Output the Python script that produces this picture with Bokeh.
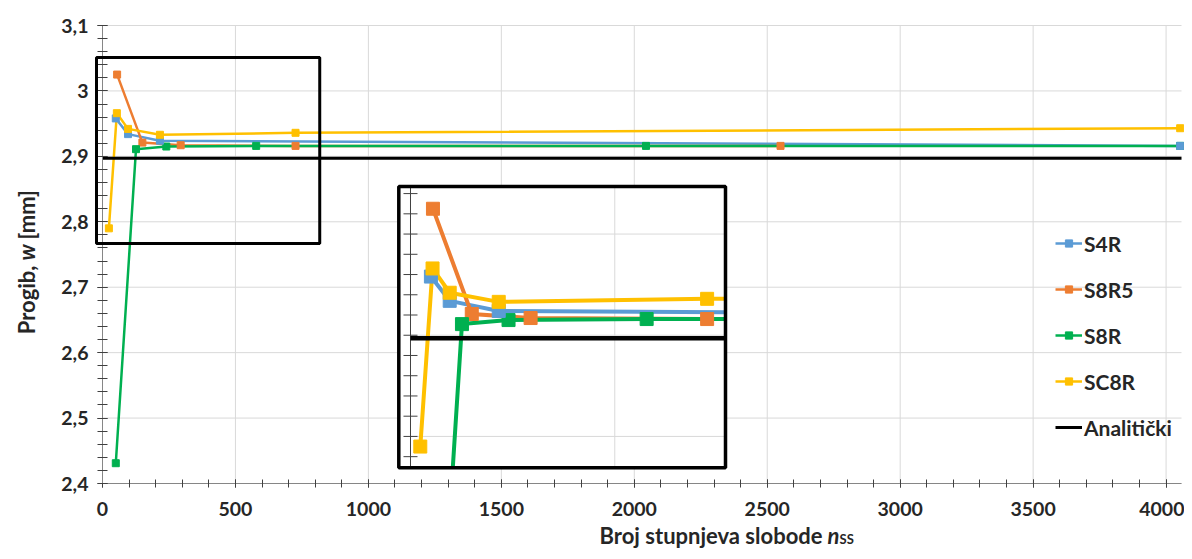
import math
from bokeh.plotting import figure
from bokeh.models import Range1d, FixedTicker, Legend, LegendItem, BoxAnnotation
from bokeh.core.properties import value
from bokeh.embed import file_html
from bokeh.resources import INLINE

# ---------------- data ----------------
s4r_x = [50, 96, 216, 4053]
s4r_y = [2.958, 2.934, 2.924, 2.916]

s8r5_x = [55, 150, 294, 726, 2550]
s8r5_y = [3.025, 2.921, 2.917, 2.916, 2.916]

s8r_x = [50, 126, 240, 578, 2044, 4053]
s8r_y = [2.431, 2.911, 2.915, 2.916, 2.916, 2.916]

sc8r_x = [24, 54, 96, 216, 726, 4053]
sc8r_y = [2.790, 2.966, 2.942, 2.933, 2.936, 2.943]

anal_x = [0, 4058]
anal_y = [2.897, 2.897]

series_names = ["S4R", "S8R5", "S8R", "SC8R", "Analitički"]

x_ticks = [0, 500, 1000, 1500, 2000, 2500, 3000, 3500, 4000]
x_tick_labels = ["0", "500", "1000", "1500", "2000", "2500", "3000", "3500", "4000"]
x_minor = list(range(0, 4100, 100))
y_ticks = [2.4, 2.5, 2.6, 2.7, 2.8, 2.9, 3.0, 3.1]
y_tick_labels = ["2,4", "2,5", "2,6", "2,7", "2,8", "2,9", "3", "3,1"]
y_minor = [round(2.4 + 0.02 * i, 2) for i in range(36)]

# magnified (inset) window in data units, its ticks and grid
inset_win = (-28.6, 771.0, 2.769, 3.047)   # x0, x1, y0, y1
inset_y_minor = [round(2.78 + 0.02 * i, 2) for i in range(14)]
inset_hgrid = [2.8, 2.9, 3.0]
inset_vgrid = [500]
zoom_box = (-22.6, 817.0, 2.767, 3.051)    # black frame marking the zoomed area

# ---------------- styling / layout (pixels of the picture) ----------------
C_BLUE, C_ORANGE, C_GREEN, C_YELLOW = "#5B9BD5", "#ED7D31", "#00B050", "#FFC000"
TXT = "#262626"
GRID = "#d9d9d9"
FONT = "Lato"
W, H = 1184, 551
XA_MIN, XA_MAX, YA_MIN, YA_MAX = 0, 4058, 2.4, 3.1
ax_l, ax_r = 102, 1181      # picture x of data 0 and 4058
ax_t, ax_b = 25, 483        # picture y of 3.1 and 2.4
k = (ax_r - ax_l) / (XA_MAX - XA_MIN)
yppu = (ax_b - ax_t) / (YA_MAX - YA_MIN)


def px2x(px):
    return XA_MIN + (px - ax_l) / k


def px2y(py):
    return YA_MIN + (ax_b - py) / yppu


# the frame covers the whole canvas; axes sit at fixed locations inside it
p = figure(width=W, height=H, output_backend="svg", toolbar_location=None,
           x_range=Range1d(px2x(0), px2x(W)), y_range=Range1d(px2y(H), px2y(0)),
           min_border=0)
p.title.visible = False
p.outline_line_color = None
p.background_fill_color = "white"
p.border_fill_color = "white"

p.xaxis.ticker = FixedTicker(ticks=x_ticks, minor_ticks=x_minor)
p.yaxis.ticker = FixedTicker(ticks=y_ticks, minor_ticks=y_minor)
p.xaxis.major_label_overrides = dict(zip(x_ticks, x_tick_labels))
p.yaxis.major_label_overrides = dict(zip(y_ticks, y_tick_labels))
p.xaxis.fixed_location = YA_MIN
p.yaxis.fixed_location = XA_MIN
p.xaxis.bounds = (XA_MIN, XA_MAX)
p.yaxis.bounds = (YA_MIN, YA_MAX)

for ax in (p.xaxis[0], p.yaxis[0]):
    ax.axis_line_color = "#868686"
    ax.axis_line_width = 1
    ax.major_tick_line_color = "#404040"
    ax.minor_tick_line_color = "#404040"
    ax.major_label_text_font = FONT
    ax.major_label_text_font_style = "bold"
    ax.major_label_text_font_size = "19.5px"
    ax.major_label_text_color = TXT
p.xaxis.major_tick_in = 4
p.xaxis.major_tick_out = 4
p.xaxis.minor_tick_in = 4
p.xaxis.minor_tick_out = 4
p.xaxis.major_label_standoff = 14
p.yaxis.major_tick_in = 5
p.yaxis.major_tick_out = 5
p.yaxis.minor_tick_in = 5
p.yaxis.minor_tick_out = 5
p.yaxis.major_label_standoff = 9

p.xgrid.visible = False
p.ygrid.visible = False
p.segment(x0=[XA_MIN] * len(y_ticks), x1=[XA_MAX] * len(y_ticks), y0=y_ticks, y1=y_ticks,
          line_color=GRID, line_width=1, level="underlay")
p.segment(x0=x_ticks, x1=x_ticks, y0=[YA_MIN] * len(x_ticks), y1=[YA_MAX] * len(x_ticks),
          line_color=GRID, line_width=1, level="underlay")

# ---------------- main series ----------------
LW, MS = 2.5, 7
l_blue = p.line(s4r_x, s4r_y, line_color=C_BLUE, line_width=LW)
l_orange = p.line(s8r5_x, s8r5_y, line_color=C_ORANGE, line_width=LW)
l_green = p.line(s8r_x, s8r_y, line_color=C_GREEN, line_width=LW)
l_yellow = p.line(sc8r_x, sc8r_y, line_color=C_YELLOW, line_width=LW)
l_anal = p.line(anal_x, anal_y, line_color="black", line_width=3)
m_orange = p.scatter(s8r5_x, s8r5_y, marker="square", size=MS, color=C_ORANGE)
m_green = p.scatter(s8r_x, s8r_y, marker="square", size=MS, color=C_GREEN)
m_blue = p.scatter(s4r_x, s4r_y, marker="square", size=MS, color=C_BLUE)
m_yellow = p.scatter(sc8r_x, sc8r_y, marker="square", size=MS, color=C_YELLOW)

p.add_layout(BoxAnnotation(left=zoom_box[0], right=zoom_box[1], bottom=zoom_box[2], top=zoom_box[3],
                           fill_alpha=0, line_color="black", line_alpha=1, line_width=3))

# ---------------- inset (magnified view) through extra ranges ----------------
box_l, box_r, box_t, box_b = 398.3, 725.0, 186.0, 467.3   # inset box, picture px
wx0, wx1, wy0, wy1 = inset_win
ppx = (box_r - box_l) / (wx1 - wx0)
ppy = (box_b - box_t) / (wy1 - wy0)
p.extra_x_ranges = {"ix": Range1d(wx0 - box_l / ppx, wx1 + (W - box_r) / ppx)}
p.extra_y_ranges = {"iy": Range1d(wy0 - (H - box_b) / ppy, wy1 + box_t / ppy)}
IR = dict(x_range_name="ix", y_range_name="iy")

p.quad(left=[wx0], right=[wx1], bottom=[wy0], top=[wy1], fill_color="white", line_color=None, **IR)
p.segment(x0=[0] * len(inset_hgrid), x1=[wx1] * len(inset_hgrid), y0=inset_hgrid, y1=inset_hgrid,
          line_color=GRID, line_width=1, **IR)
p.segment(x0=inset_vgrid, x1=inset_vgrid, y0=[wy0] * len(inset_vgrid), y1=[wy1] * len(inset_vgrid),
          line_color=GRID, line_width=1, **IR)
p.segment(x0=[0], x1=[0], y0=[wy0], y1=[wy1], line_color="#404040", line_width=1, **IR)
th = 7 / ppx
p.segment(x0=[-th] * len(inset_y_minor), x1=[th] * len(inset_y_minor), y0=inset_y_minor, y1=inset_y_minor,
          line_color="#404040", line_width=1, **IR)


def clip_polyline(xs, ys, x0, x1, y0, y1):
    """Clip a polyline to a rectangle (Liang-Barsky); returns the visible pieces."""
    pieces = []
    cur_x, cur_y = None, None
    for i in range(len(xs) - 1):
        ax, ay, bx, by = xs[i], ys[i], xs[i + 1], ys[i + 1]
        dx, dy = bx - ax, by - ay
        t0, t1, ok = 0.0, 1.0, True
        for pp, qq in ((-dx, ax - x0), (dx, x1 - ax), (-dy, ay - y0), (dy, y1 - ay)):
            if pp == 0:
                if qq < 0:
                    ok = False
                    break
            else:
                r = qq / pp
                if pp < 0:
                    if r > t1:
                        ok = False
                        break
                    t0 = max(t0, r)
                else:
                    if r < t0:
                        ok = False
                        break
                    t1 = min(t1, r)
        if not ok:
            if cur_x:
                pieces.append((cur_x, cur_y))
            cur_x, cur_y = None, None
            continue
        sx, sy = ax + t0 * dx, ay + t0 * dy
        ex, ey = ax + t1 * dx, ay + t1 * dy
        if cur_x is not None and t0 == 0.0:
            cur_x.append(ex)
            cur_y.append(ey)
        else:
            if cur_x:
                pieces.append((cur_x, cur_y))
            cur_x, cur_y = [sx, ex], [sy, ey]
        if t1 < 1.0:
            pieces.append((cur_x, cur_y))
            cur_x, cur_y = None, None
    if cur_x:
        pieces.append((cur_x, cur_y))
    return pieces


def inset_line(xs, ys, color, width):
    pcs = clip_polyline(xs, ys, wx0, wx1, wy0, wy1)
    if pcs:
        p.multi_line(xs=[a for a, b in pcs], ys=[b for a, b in pcs], line_color=color,
                     line_width=width, line_join="round", **IR)


def inset_marks(xs, ys, color):
    inside = [(x, y) for x, y in zip(xs, ys) if wx0 <= x <= wx1 and wy0 <= y <= wy1]
    p.scatter([a for a, b in inside], [b for a, b in inside], marker="square", size=13,
              color=color, **IR)


inset_line(s4r_x, s4r_y, C_BLUE, 4)
inset_line(s8r5_x, s8r5_y, C_ORANGE, 4)
inset_line(s8r_x, s8r_y, C_GREEN, 4)
inset_line(sc8r_x, sc8r_y, C_YELLOW, 4)
inset_line(anal_x, anal_y, "black", 4.5)
inset_marks(s8r5_x, s8r5_y, C_ORANGE)
inset_marks(s8r_x, s8r_y, C_GREEN)
inset_marks(s4r_x, s4r_y, C_BLUE)
inset_marks(sc8r_x, sc8r_y, C_YELLOW)
p.quad(left=[wx0], right=[wx1], bottom=[wy0], top=[wy1], fill_alpha=0, line_color="black",
       line_width=3.5, **IR)

# ---------------- legend ----------------
legend = Legend(items=[
    LegendItem(label=series_names[0], renderers=[l_blue, m_blue]),
    LegendItem(label=series_names[1], renderers=[l_orange, m_orange]),
    LegendItem(label=series_names[2], renderers=[l_green, m_green]),
    LegendItem(label=series_names[3], renderers=[l_yellow, m_yellow]),
    LegendItem(label=series_names[4], renderers=[l_anal]),
], location=(1055, H - 440), orientation="vertical", padding=0, margin=0, spacing=20,
    glyph_width=27, glyph_height=18, label_height=26, label_standoff=2,
    border_line_color=None, background_fill_alpha=0,
    label_text_font=FONT, label_text_font_style="bold", label_text_font_size="21px",
    label_text_color=TXT)
p.add_layout(legend)

# ---------------- axis titles (mixed styles) ----------------
TS = "22px"
yc_x, yc_y, gap = px2x(26), px2y(252), 13 / yppu
p.text(x=[yc_x], y=[yc_y - gap], text=["Progib,"], angle=math.pi / 2, text_align="right",
       text_baseline="middle", text_font=value(FONT), text_font_style="bold",
       text_font_size=TS, text_color=TXT)
p.text(x=[yc_x], y=[yc_y], text=["w"], angle=math.pi / 2, text_align="center",
       text_baseline="middle", text_font=value(FONT), text_font_style="bold italic",
       text_font_size=TS, text_color=TXT)
p.text(x=[yc_x], y=[yc_y + gap], text=["[mm]"], angle=math.pi / 2, text_align="left",
       text_baseline="middle", text_font=value(FONT), text_font_style="bold",
       text_font_size=TS, text_color=TXT)

xa, xmid = 822, 535
p.text(x=[px2x(xa)], y=[px2y(xmid)], text=["Broj stupnjeva slobode"], text_align="right",
       text_baseline="middle", text_font=value(FONT), text_font_style="bold",
       text_font_size=TS, text_color=TXT)
p.text(x=[px2x(xa + 5)], y=[px2y(xmid)], text=["n"], text_align="left",
       text_baseline="middle", text_font=value(FONT), text_font_style="bold italic",
       text_font_size=TS, text_color=TXT)
p.text(x=[px2x(xa + 17)], y=[px2y(xmid + 3)], text=["SS"], text_align="left",
       text_baseline="middle", text_font=value(FONT), text_font_style="bold",
       text_font_size="13px", text_color=TXT)

open("out.html", "w").write(file_html(p, INLINE))
